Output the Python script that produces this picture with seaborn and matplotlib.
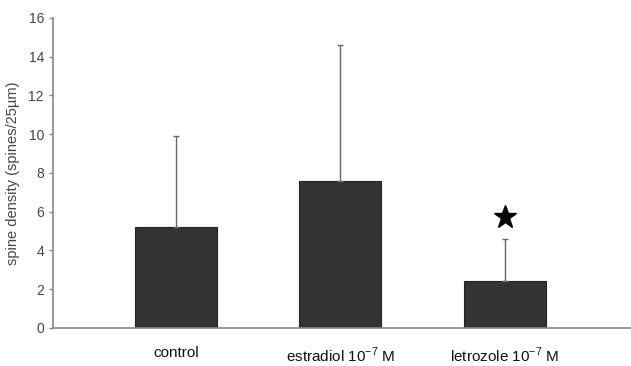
import matplotlib
matplotlib.use("Agg")
import matplotlib.pyplot as plt
import seaborn as sns
import pandas as pd

# values
groups = ["control", "estradiol 10$^{-7}$ M", "letrozole 10$^{-7}$ M"]
means = [5.2, 7.6, 2.4]
sd_upper = [4.7, 7.0, 2.2]
star_group = 2
star_y = 5.7

sns.set_style("white")
plt.rcParams["font.family"] = ["Liberation Sans", "DejaVu Sans"]
plt.rcParams["mathtext.fontset"] = "custom"
plt.rcParams["mathtext.rm"] = "Liberation Sans"

df = pd.DataFrame({"group": groups, "density": means})

fig = plt.figure(figsize=(6.31, 3.66), dpi=100)
ax = fig.add_axes([0.084, 0.104, 0.916, 0.847])

sns.barplot(data=df, x="group", y="density", color="#333333", width=0.5,
            edgecolor="#222222", linewidth=0.8, errorbar=None, ax=ax, saturation=1)

ax.errorbar(range(len(groups)), means, yerr=[[0] * len(groups), sd_upper],
            fmt="none", ecolor="#666666", elinewidth=1.0, capsize=2, capthick=1.0)

ax.plot(star_group, star_y, marker="*", color="black", markersize=17, linestyle="none")

ax.set_xlim(-0.75, 2.77)
ax.set_ylim(0, 16)
ax.set_yticks(range(0, 17, 2))
ax.set_xlabel("")
ax.set_ylabel("spine density (spines/25µm)", fontsize=10.5, color="#444444", labelpad=6)

for side in ["top", "right"]:
    ax.spines[side].set_visible(False)
for side in ["left", "bottom"]:
    ax.spines[side].set_color("#888888")
    ax.spines[side].set_linewidth(1.2)

ax.tick_params(axis="y", direction="out", length=3, width=1, color="#888888",
               labelsize=10, labelcolor="#444444", left=True)
ax.tick_params(axis="x", length=0, labelsize=11, labelcolor="#111111", pad=13)

fig.savefig("out.png", dpi=100)
